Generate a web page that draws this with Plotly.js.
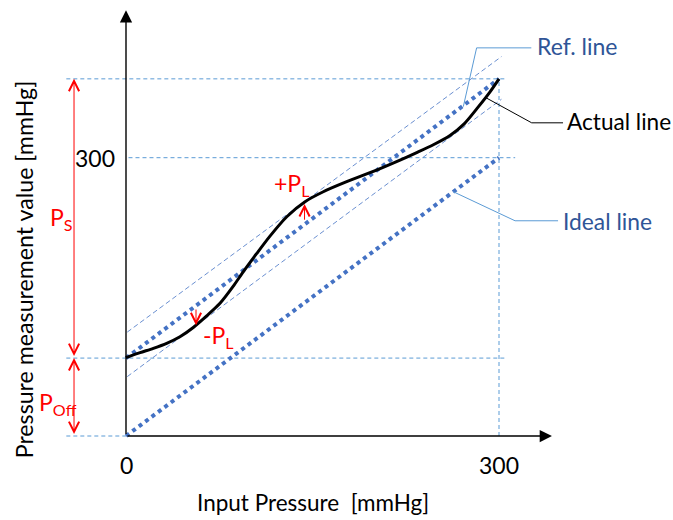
<!DOCTYPE html>
<html>
<head>
<meta charset="utf-8">
<script src="https://cdn.plot.ly/plotly-3.0.1.min.js"></script>
<style>html,body{margin:0;padding:0;background:#fff;}#chart{width:673px;height:520px;}</style>
</head>
<body>
<div id="chart"></div>
<script>
// ---- data (mmHg) ----
const xTickVals = [0, 300];
const xTickText = ['0', '300'];
const yTickVals = [300];
const yTickText = ['300'];

const offsetValue = 84;      // P_Off
const topValue = 385;        // measured value at 300 mmHg input

const idealX = [0, 300];
const idealY = [0, 300];
const refX = [0, 300];
const refY = [84, 385];
const upperBandX = [1, 302];
const upperBandY = [112, 409];
const lowerBandX = [1, 302];
const lowerBandY = [64, 363];

const actualX = [0, 11.3, 22, 32.7, 43.4, 54.1, 64.9, 75.6, 86.3, 94.3, 105, 115.8, 129.3, 144, 158.7, 177.5, 196.2, 220.4, 233.8, 247.2, 260.6, 272, 283.5, 292.8, 300];
const actualY = [84.5, 89.8, 94.5, 99.9, 107, 117, 129.5, 143, 161.5, 177, 196.5, 215.5, 236.4, 252.6, 263.3, 274.1, 283.8, 297.5, 305.5, 314, 324, 336.5, 355, 371, 385];

// guide lines
const guideTopX = [-48, 306];      const guideTopY = [385, 385];
const guide300X = [2, 313];        const guide300Y = [300, 300];
const guideOffX = [-48, 306];      const guideOffY = [84, 84];
const guideZeroX = [-48, 0];       const guideZeroY = [0, 0];
const guideVertX = [300, 300];     const guideVertY = [0, 385];

// leader lines for labels
const refLeaderX = [326, 282, 271.3];    const refLeaderY = [418.4, 418.4, 355];
const actLeaderX = [351.5, 326.3, 289];  const actLeaderY = [337.6, 337.6, 365];
const idlLeaderX = [347.5, 312.9, 263.3]; const idlLeaderY = [232, 232, 263.3];

const labelText = ['Ref. line', 'Actual line', 'Ideal line'];

// ---- drawing ----
const FONT = 'Lato, "Open Sans", sans-serif';
const GUIDE = '#5B9BD5';
const DOT = '#4472C4';
const LBLUE = '#2F5597';
const RED = '#FF0000';

function line(x, y, color, width, dash, shape) {
  const l = {color: color, width: width, dash: dash || 'solid', shape: shape || 'linear'};
  if (shape === 'spline') l.smoothing = 0.8;
  return {type: 'scatter', mode: 'lines', x: x, y: y, hoverinfo: 'skip', line: l};
}

const traces = [
  line(guideTopX, guideTopY, GUIDE, 1, '4px,3px'),
  line(guide300X, guide300Y, GUIDE, 1, '4px,3px'),
  line(guideOffX, guideOffY, GUIDE, 1, '4px,3px'),
  line(guideZeroX, guideZeroY, GUIDE, 1, '4px,3px'),
  line(guideVertX, guideVertY, GUIDE, 1, '4px,3px'),
  line(upperBandX, upperBandY, DOT, 0.8, '5px,3px'),
  line(lowerBandX, lowerBandY, DOT, 0.8, '5px,3px'),
  line(idealX, idealY, DOT, 4, '4px,4px'),
  line(refX, refY, DOT, 4, '4px,4px'),
  line(refLeaderX, refLeaderY, GUIDE, 1),
  line(idlLeaderX, idlLeaderY, GUIDE, 1),
  line(actLeaderX, actLeaderY, '#000', 1),
  line(actualX, actualY, '#000', 3, 'solid', 'spline')
];

function arrow(x, y, ax, ay, color, head, size, width, both) {
  return {x: x, y: y, ax: ax, ay: ay, xref: 'x', yref: 'y', axref: 'x', ayref: 'y',
          text: ' ', font: {size: 1}, showarrow: true, arrowhead: head, startarrowhead: head,
          arrowsize: size, startarrowsize: size, arrowwidth: width, arrowcolor: color,
          arrowside: both ? 'end+start' : 'end', standoff: 0, startstandoff: 0};
}
function label(x, y, text, color, size, xanchor, extra) {
  return Object.assign({x: x, y: y, xref: 'x', yref: 'y', text: text, showarrow: false,
          font: {family: FONT, size: size, color: color}, xanchor: xanchor || 'center', yanchor: 'middle'}, extra || {});
}

const annotations = [
  // axes
  arrow(342.6, 0, 0, 0, '#000', 2, 1.75, 1.4),
  arrow(0, 459, 0, 0, '#000', 2, 1.75, 1.4),
  // P_S and P_Off dimension arrows
  arrow(-41.8, topValue, -41.8, offsetValue, RED, 5, 2, 1, true),
  arrow(-41.8, offsetValue, -41.8, 0, RED, 5, 2, 1, true),
  // +P_L and -P_L arrows
  arrow(143.6, 250, 143.6, 231, RED, 5, 2, 1),
  arrow(56.3, 119.5, 56.3, 138.5, RED, 5, 2, 1),
  // tick labels
  label(xTickVals[0], -31.3, xTickText[0], '#000', 23),
  label(xTickVals[1], -31.3, xTickText[1], '#000', 23),
  label(-7, yTickVals[0], yTickText[0], '#000', 23, 'right'),
  // axis titles
  label(150.4, -72.2, 'Input Pressure\u00a0\u00a0[mmHg]', '#000', 22.5),
  label(-81.8, 180, 'Pressure measurement value [mmHg]', '#000', 23.2, 'center', {textangle: -90}),
  // line labels
  label(329, 420.3, labelText[0], LBLUE, 23, 'left'),
  label(353, 338.7, labelText[1], '#000', 22.6, 'left'),
  label(349.6, 232, labelText[2], LBLUE, 22.8, 'left'),
  // red symbols
  label(-63, 235, 'P<sub>S</sub>', RED, 23, 'left'),
  label(-71.5, 35, 'P<sub>Off</sub>', RED, 23, 'left'),
  label(133.8, 271, '+P<sub>L</sub>', RED, 23),
  label(74.2, 107, '-P<sub>L</sub>', RED, 23)
];

const layout = {
  width: 673, height: 520,
  margin: {l: 0, r: 0, t: 0, b: 0},
  paper_bgcolor: '#fff', plot_bgcolor: '#fff',
  showlegend: false,
  xaxis: {range: [-101.34, 439.95], visible: false, fixedrange: true},
  yaxis: {range: [-90.55, 470.0], visible: false, fixedrange: true},
  annotations: annotations
};

Plotly.newPlot('chart', traces, layout, {staticPlot: true, displayModeBar: false});
</script>
</body>
</html>
